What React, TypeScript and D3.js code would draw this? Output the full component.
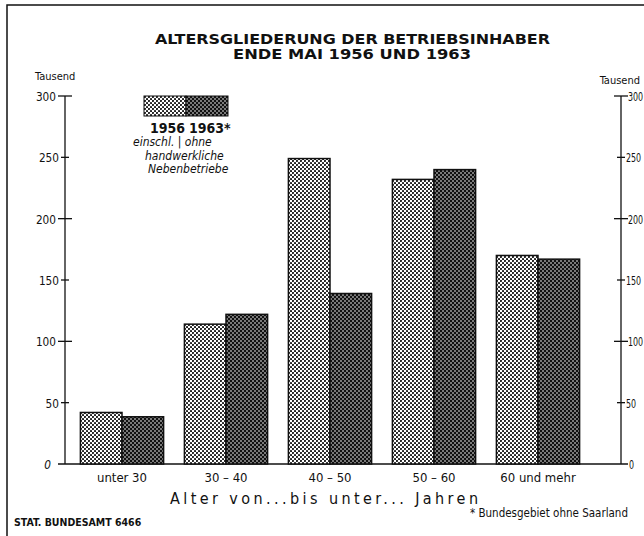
import { useEffect, useRef } from 'react'
import * as d3 from 'd3'

const W = 644
const H = 536
const MARGIN = { top: 96, bottom: 72, left: 65, right: 23 }
const FONT = '"DejaVu Sans Condensed", "Liberation Sans", sans-serif'

const CATEGORIES = ['unter 30', '30 – 40', '40 – 50', '50 – 60', '60 und mehr']
const YEARS = ['1956', '1963*']
const VALUES_1956 = [42, 114, 249, 232, 170]
const VALUES_1963 = [38.5, 122, 139, 240, 167]
const Y_TICKS = [0, 50, 100, 150, 200, 250, 300]

export default function App() {
  const svgRef = useRef<SVGSVGElement>(null)

  useEffect(() => {
    const svgEl = svgRef.current
    if (!svgEl) return
    const svg = d3.select(svgEl)
    svg.selectAll('*').remove()

    const y0 = H - MARGIN.bottom
    const xL = MARGIN.left
    const xR = W - MARGIN.right

    // ── Patterns ───────────────────────────────────────────────────────────────
    const defs = svg.append('defs')
    const light = defs.append('pattern').attr('id', 'pat1956')
      .attr('width', 4).attr('height', 4).attr('patternUnits', 'userSpaceOnUse')
    light.append('rect').attr('width', 4).attr('height', 4).attr('fill', '#fff')
    light.append('circle').attr('cx', 1).attr('cy', 1).attr('r', 1.05).attr('fill', '#111')
    light.append('circle').attr('cx', 3).attr('cy', 3).attr('r', 1.05).attr('fill', '#111')
    const dark = defs.append('pattern').attr('id', 'pat1963')
      .attr('width', 4).attr('height', 4).attr('patternUnits', 'userSpaceOnUse')
    dark.append('rect').attr('width', 4).attr('height', 4).attr('fill', '#111')
    dark.append('circle').attr('cx', 1).attr('cy', 1).attr('r', 0.8).attr('fill', '#fff')
    dark.append('circle').attr('cx', 3).attr('cy', 3).attr('r', 0.8).attr('fill', '#fff')
    const fills = ['url(#pat1956)', 'url(#pat1963)']

    // ── Frame (right edge runs off the page) ───────────────────────────────────
    svg.append('path')
      .attr('d', `M7,${H} L7,5 L${W},5`)
      .attr('fill', 'none').attr('stroke', '#111').attr('stroke-width', 1.5)

    // ── Title ──────────────────────────────────────────────────────────────────
    const title = svg.append('g').attr('font-family', FONT).attr('font-weight', 'bold')
      .attr('font-size', 14).attr('fill', '#111')
    title.append('text').attr('x', 155).attr('y', 44)
      .attr('textLength', 395).attr('lengthAdjust', 'spacingAndGlyphs')
      .text('ALTERSGLIEDERUNG DER BETRIEBSINHABER')
    title.append('text').attr('x', 233).attr('y', 58.5)
      .attr('textLength', 238).attr('lengthAdjust', 'spacingAndGlyphs')
      .text('ENDE MAI 1956 UND 1963')

    // ── Scales ─────────────────────────────────────────────────────────────────
    const y = d3.scaleLinear([0, 300], [y0, MARGIN.top])
    const x = d3.scaleBand(CATEGORIES, [70, 590]).paddingInner(0.2).paddingOuter(0.1)
    const xs = d3.scaleBand(YEARS, [0, x.bandwidth()])

    // ── Axes ───────────────────────────────────────────────────────────────────
    const axes = svg.append('g').attr('stroke', '#111').attr('stroke-width', 1.3)
    axes.append('line').attr('x1', 58).attr('x2', W - 16).attr('y1', y0).attr('y2', y0)
    ;[xL, xR].forEach((ax) => {
      axes.append('line').attr('x1', ax).attr('x2', ax).attr('y1', y(300)).attr('y2', y0)
      Y_TICKS.filter(t => t > 0).forEach(t => {
        const len = t % 100 === 0 ? 7 : 4
        axes.append('line')
          .attr('x1', ax - len).attr('x2', ax + len)
          .attr('y1', y(t)).attr('y2', y(t))
      })
    })

    const labels = svg.append('g').attr('font-family', FONT).attr('font-size', 13).attr('fill', '#111')
    // condensed tick labels (the original uses a narrow grotesque)
    Y_TICKS.forEach(t => {
      const major = t % 100 === 0
      const lx = t === 0 ? xL - 14 : major ? xL - 9 : xL - 6
      labels.append('text')
        .attr('transform', `translate(${lx},${y(t) + 5}) scale(0.9,1)`)
        .attr('text-anchor', 'end').attr('font-style', t === 0 ? 'italic' : null)
        .text(t)
      const rx = t === 0 ? xR + 8 : major ? xR + 7 : xR + 5
      labels.append('text')
        .attr('transform', `translate(${rx},${y(t) + 5}) scale(0.68,1)`)
        .attr('text-anchor', 'start')
        .text(t)
    })
    labels.append('text').attr('x', 35).attr('y', y(300) - 16).attr('font-size', 11).text('Tausend')
    labels.append('text').attr('x', 640).attr('y', y(300) - 12).attr('font-size', 11)
      .attr('text-anchor', 'end').text('Tausend')

    // ── Bars ───────────────────────────────────────────────────────────────────
    const series = [VALUES_1956, VALUES_1963]
    CATEGORIES.forEach((c, i) => {
      series.forEach((vals, j) => {
        const bx = (x(c) ?? 0) + (xs(YEARS[j]) ?? 0)
        svg.append('rect')
          .attr('x', bx).attr('y', y(vals[i]))
          .attr('width', xs.bandwidth()).attr('height', y0 - y(vals[i]))
          .attr('fill', fills[j]).attr('stroke', '#111').attr('stroke-width', 1.5)
      })
      labels.append('text')
        .attr('x', (x(c) ?? 0) + x.bandwidth() / 2).attr('y', y0 + 18)
        .attr('text-anchor', 'middle').text(c)
    })

    labels.append('text')
      .attr('x', 170).attr('y', y0 + 40)
      .attr('font-size', 16).attr('textLength', 308).attr('lengthAdjust', 'spacing')
      .text('Alter von...bis unter... Jahren')

    // ── Legend ─────────────────────────────────────────────────────────────────
    YEARS.forEach((yr, j) => {
      svg.append('rect')
        .attr('x', 144 + j * 42).attr('y', 96).attr('width', 42).attr('height', 20)
        .attr('fill', fills[j]).attr('stroke', '#111').attr('stroke-width', 1)
      labels.append('text')
        .attr('x', 150 + j * 39).attr('y', 133).attr('font-size', 14).attr('font-weight', 'bold')
        .text(yr)
    })
    const note = labels.append('g').attr('font-size', 12).attr('font-style', 'italic')
    note.append('text').attr('x', 133).attr('y', 146).text('einschl. | ohne')
    note.append('text').attr('x', 145).attr('y', 160).text('handwerkliche')
    note.append('text').attr('x', 148).attr('y', 173).text('Nebenbetriebe')

    // ── Footer ─────────────────────────────────────────────────────────────────
    labels.append('text').attr('x', 14).attr('y', 526)
      .attr('font-size', 10.5).attr('font-weight', 'bold').text('STAT. BUNDESAMT 6466')
    labels.append('text').attr('x', 628).attr('y', 517)
      .attr('font-size', 11.5).attr('text-anchor', 'end').text('* Bundesgebiet ohne Saarland')
  }, [])

  return (
    <div style={{ position: 'fixed', left: 0, top: 0, background: '#fff' }}>
      <svg ref={svgRef} width={W} height={H} style={{ display: 'block' }} />
    </div>
  )
}
